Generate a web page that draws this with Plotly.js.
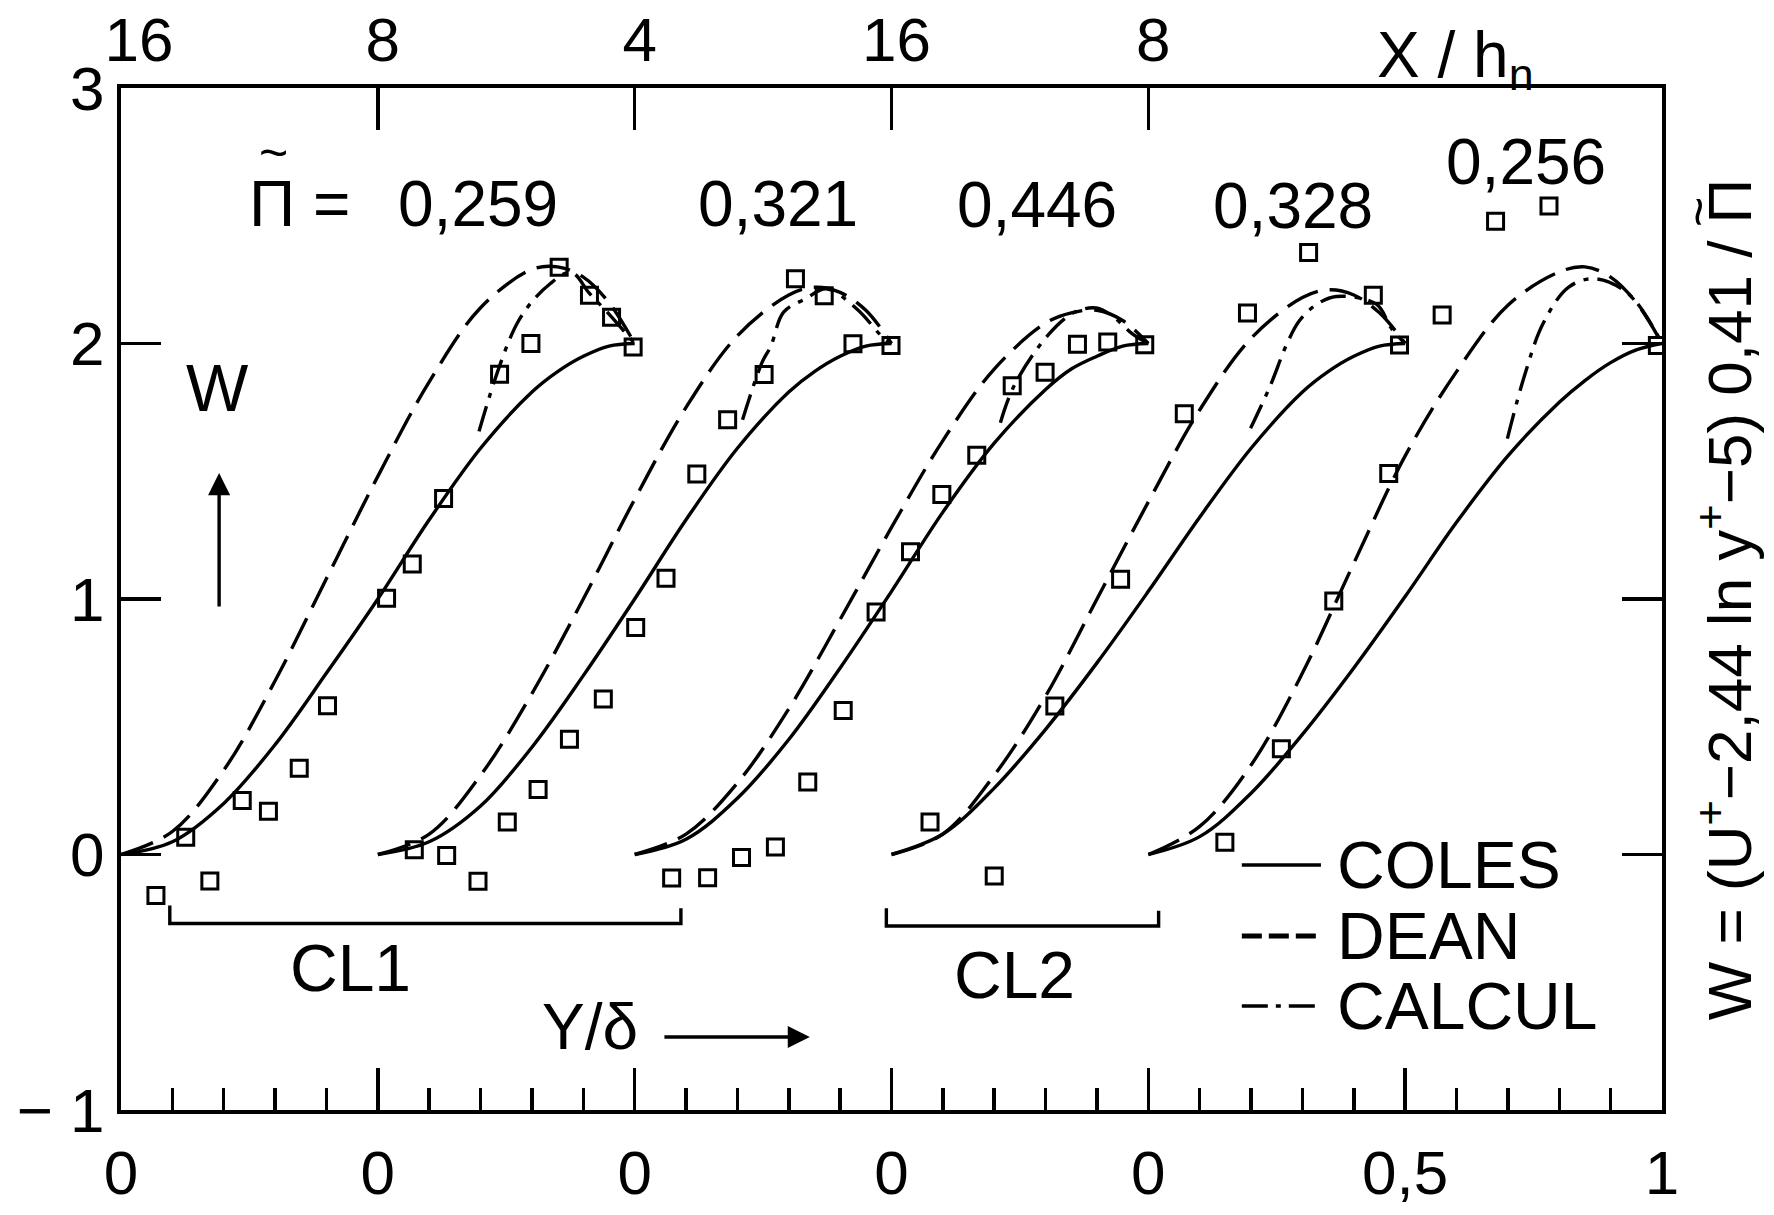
<!DOCTYPE html>
<html><head><meta charset="utf-8">
<script src="https://cdn.plot.ly/plotly-3.0.1.min.js"></script>
<style>html,body{margin:0;padding:0;background:#fff}#chart{width:1774px;height:1215px}</style>
</head><body><div id="chart"></div>
<script>
const FONT = 'Liberation Sans, Arial, DejaVu Sans, sans-serif';

// ---- data (local abscissa Y/delta of each profile, W values) ----
const profileOffsets = [0, 0.5, 1.0, 1.5, 2.0];
const piLabels = ['0,259', '0,321', '0,446', '0,328', '0,256'];
const etaGrid = [0, 0.1, 0.2, 0.3, 0.4, 0.5, 0.6, 0.7, 0.8, 0.85, 0.9, 0.95, 1.0];

const colesW1 = [0, 0.05, 0.20, 0.43, 0.71, 1.00, 1.31, 1.59, 1.81, 1.89, 1.95, 1.99, 2.0];
const colesW2 = [0, 0.05, 0.19, 0.42, 0.70, 1.00, 1.31, 1.59, 1.81, 1.89, 1.95, 1.99, 2.0];
const colesW3 = [0, 0.06, 0.22, 0.45, 0.73, 1.03, 1.34, 1.61, 1.82, 1.90, 1.95, 1.99, 2.0];
const colesW4 = [0, 0.08, 0.26, 0.49, 0.75, 1.03, 1.32, 1.59, 1.81, 1.89, 1.95, 1.99, 2.0];
const colesW5 = [0, 0.07, 0.24, 0.47, 0.73, 1.01, 1.30, 1.56, 1.77, 1.855, 1.925, 1.975, 2.0];

const deanW1 = [0, 0.09, 0.33, 0.68, 1.08, 1.48, 1.85, 2.14, 2.29, 2.30, 2.26, 2.16, 2.0];
const deanW2 = [0, 0.08, 0.31, 0.63, 1.00, 1.39, 1.75, 2.03, 2.19, 2.22, 2.20, 2.13, 2.0];
const deanW3 = [0, 0.08, 0.28, 0.57, 0.92, 1.28, 1.62, 1.90, 2.08, 2.12, 2.13, 2.09, 2.0];
const deanW4 = [0, 0.08, 0.31, 0.62, 1.00, 1.38, 1.74, 2.02, 2.18, 2.21, 2.19, 2.12, 2.0];
const deanW5 = [0, 0.11, 0.35, 0.71, 1.14, 1.56, 1.89, 2.15, 2.28, 2.30, 2.26, 2.16, 2.0];

const calculEta1 = [0.697, 0.774, 0.836, 0.877, 0.912, 0.947, 1.0];
const calculW1   = [1.656, 2.089, 2.235, 2.278, 2.196, 2.122, 2.0];
const calculEta2 = [0.710, 0.748, 0.765, 0.790, 0.833, 0.873, 0.932, 0.985, 1.0];
const calculW2   = [1.702, 1.926, 1.989, 2.123, 2.175, 2.214, 2.136, 2.02, 2.0];
const calculEta3 = [0.712, 0.740, 0.806, 0.856, 0.899, 0.932, 0.969, 1.0];
const calculW3   = [1.690, 1.840, 2.036, 2.122, 2.139, 2.104, 2.038, 2.0];
const calculEta4 = [0.699, 0.737, 0.769, 0.794, 0.827, 0.866, 0.944, 0.973, 1.0];
const calculW4   = [1.668, 1.833, 1.995, 2.089, 2.152, 2.184, 2.154, 2.06, 2.0];
const calculEta5 = [0.699, 0.733, 0.769, 0.819, 0.871, 0.936, 1.0];
const calculW5   = [1.628, 1.879, 2.080, 2.222, 2.253, 2.192, 2.0];

const measEta1 = [0.068, 0.126, 0.173, 0.236, 0.287, 0.347, 0.402, 0.517, 0.567, 0.628, 0.737, 0.798, 0.853, 0.912, 0.955, 0.997];
const measW1   = [-0.16, 0.068, -0.104, 0.211, 0.169, 0.338, 0.582, 1.003, 1.137, 1.393, 1.88, 2.0, 2.298, 2.189, 2.103, 1.986];
const measEta2 = [0.071, 0.134, 0.195, 0.252, 0.312, 0.373, 0.439, 0.502, 0.561, 0.621, 0.681, 0.752, 0.813, 0.869, 0.925, 0.999];
const measW2   = [0.019, -0.004, -0.105, 0.127, 0.254, 0.451, 0.609, 0.888, 1.081, 1.489, 1.702, 1.879, 2.253, 2.187, 1.999, 1.992];
const measEta3 = [0.072, 0.142, 0.208, 0.274, 0.337, 0.406, 0.470, 0.537, 0.598, 0.666, 0.735, 0.799, 0.862, 0.921, 0.993];
const measW3   = [-0.092, -0.091, -0.012, 0.029, 0.284, 0.564, 0.949, 1.185, 1.409, 1.563, 1.835, 1.887, 1.997, 2.006, 1.995];
const measEta4 = [0.075, 0.200, 0.318, 0.446, 0.570, 0.693, 0.812, 0.938, 0.989];
const measW4   = [0.127, -0.084, 0.581, 1.077, 1.725, 2.119, 2.356, 2.189, 1.994];
const measEta5 = [0.149, 0.259, 0.361, 0.468, 0.572, 0.676, 0.780, 0.991];
const measW5   = [0.048, 0.414, 0.992, 1.491, 2.112, 2.478, 2.538, 1.992];

const bottomTickVals = [0, 0.5, 1, 1.5, 2, 2.5, 3];
const bottomTickText = ['0', '0', '0', '0', '0', '0,5', '1'];
const topTickVals = [0.5, 1, 1.5, 2];
const topTickText = ['8', '4', '16', '8'];
const topFirstVal = [0.035];
const topFirstText = ['16'];
const leftTickVals = [-1, 0, 1, 2, 3];
const leftTickText = ['\u2212 1', '0', '1', '2', '3'];
const groupBrackets = [{label: 'CL1', from: 0.095, to: 1.09, depth: -0.27, lx: 0.446, ly: -0.445},
                       {label: 'CL2', from: 1.49, to: 2.02, depth: -0.28, lx: 1.74, ly: -0.47}];

// ---- build traces ----
const colesSets = [colesW1, colesW2, colesW3, colesW4, colesW5];
const deanSets = [deanW1, deanW2, deanW3, deanW4, deanW5];
const calculEta = [calculEta1, calculEta2, calculEta3, calculEta4, calculEta5];
const calculW = [calculW1, calculW2, calculW3, calculW4, calculW5];
const measEta = [measEta1, measEta2, measEta3, measEta4, measEta5];
const measW = [measW1, measW2, measW3, measW4, measW5];

const LW = 3.4;
const traces = [];
profileOffsets.forEach((off, i) => {
  const shift = arr => arr.map(v => v + off);
  traces.push({x: shift(etaGrid), y: colesSets[i], mode: 'lines', name: 'COLES', showlegend: false,
    line: {color: '#000', width: LW, shape: 'spline', smoothing: 1}, hoverinfo: 'skip'});
  traces.push({x: shift(etaGrid), y: deanSets[i], mode: 'lines', name: 'DEAN', showlegend: false,
    line: {color: '#000', width: LW, dash: '34px,12px', shape: 'spline', smoothing: 1}, hoverinfo: 'skip'});
  traces.push({x: shift(calculEta[i]), y: calculW[i], mode: 'lines', name: 'CALCUL', showlegend: false,
    line: {color: '#000', width: LW, dash: '26px,9px,5px,9px', shape: 'spline', smoothing: 1}, hoverinfo: 'skip'});
  traces.push({x: shift(measEta[i]), y: measW[i], mode: 'markers', showlegend: false,
    marker: {symbol: 'square-open', size: 16, color: '#000', line: {width: 3, color: '#000'}}, hoverinfo: 'skip'});
});
traces.push({x: [], y: [], xaxis: 'x2', yaxis: 'y', showlegend: false});
traces.push({x: [], y: [], xaxis: 'x3', yaxis: 'y', showlegend: false});

// ---- annotations ----
const ann = [];
const T = (text, x, y, size, extra) => Object.assign({text, x, y, xref: 'x', yref: 'y', showarrow: false,
  xanchor: 'center', yanchor: 'middle', font: {family: FONT, size: size, color: '#000'}}, extra || {});
ann.push(T('\u03A0 =', 0.348, 2.546, 64));
ann.push(T('~', 0.296, 2.745, 50, {height: 18}));
const piX = [0.695, 1.279, 1.783, 2.281, 2.735];
const piY = [2.546, 2.546, 2.542, 2.538, 2.71];
piLabels.forEach((t, i) => ann.push(T(t, piX[i], piY[i], 64)));
ann.push(T('W', 0.187, 1.826, 66));
ann.push({x: 0.191, y: 1.493, ax: 0.191, ay: 0.965, axref: 'x', ayref: 'y', xref: 'x', yref: 'y',
  showarrow: true, arrowhead: 2, arrowsize: 1.3, arrowwidth: 3.4, arrowcolor: '#000', text: ''});
ann.push(T('Y/\u03B4', 0.913, -0.675, 64));
ann.push({x: 1.341, y: -0.714, ax: 1.055, ay: -0.714, axref: 'x', ayref: 'y', xref: 'x', yref: 'y',
  showarrow: true, arrowhead: 2, arrowsize: 1.3, arrowwidth: 3.4, arrowcolor: '#000', text: ''});
groupBrackets.forEach(b => ann.push(T(b.label, b.lx, b.ly, 66)));
ann.push({text: 'X / h<sub>n</sub>', xref: 'paper', yref: 'paper', x: 0.866, y: 1.0284, showarrow: false,
  xanchor: 'center', yanchor: 'middle', font: {family: FONT, size: 64, color: '#000'}});
ann.push({text: 'W = (U<sup>+</sup>\u22122,44 ln y<sup>+</sup>\u22125) 0,41 / \u03A0', xref: 'paper', yref: 'paper',
  x: 1.041, y: 0.500, textangle: -90, showarrow: false, xanchor: 'center', yanchor: 'middle',
  font: {family: FONT, size: 62, color: '#000'}});
ann.push({text: '~', xref: 'paper', yref: 'paper', x: 1.0234, y: 0.8787, textangle: -90, showarrow: false,
  xanchor: 'center', yanchor: 'middle', height: 18, font: {family: FONT, size: 52, color: '#000'}});

// legend (drawn)
const legendRows = [{label: 'COLES', y: -0.041, dash: 'solid'}, {label: 'DEAN', y: -0.319, dash: '20px,7px'},
                    {label: 'CALCUL', y: -0.593, dash: '26px,8px,5px,8px'}];
const shapes = [];
legendRows.forEach(r => {
  shapes.push({type: 'line', xref: 'x', yref: 'y', x0: 2.182, x1: 2.336, y0: r.y, y1: r.y,
    line: {color: '#000', width: r.label === 'DEAN' ? 5 : LW, dash: r.dash}});
  ann.push(T(r.label, 2.363, r.y, 66, {xanchor: 'left'}));
});
groupBrackets.forEach(b => {
  shapes.push({type: 'path', xref: 'x', yref: 'y',
    path: `M ${b.from},${b.depth + 0.07} L ${b.from},${b.depth} L ${b.to},${b.depth} L ${b.to},${b.depth + 0.06}`,
    line: {color: '#000', width: 3.4}});
});

const topAxisCommon = {overlaying: 'x', anchor: 'y', side: 'top', range: [0, 3], showline: false,
  tickmode: 'array', showgrid: false, zeroline: false, tickfont: {family: FONT, size: 62}, ticklabelstandoff: 14};

const layout = {
  width: 1774, height: 1215, paper_bgcolor: '#fff', plot_bgcolor: '#fff',
  margin: {l: 121, r: 112, t: 88, b: 105},
  showlegend: false,
  font: {family: FONT, color: '#000'},
  xaxis: {range: [0, 3], showline: true, linewidth: 4, linecolor: '#000', mirror: true,
    ticks: 'inside', ticklen: 42, tickwidth: 3.5, tickcolor: '#000',
    tickmode: 'array', tickvals: bottomTickVals, ticktext: bottomTickText,
    minor: {ticks: 'inside', ticklen: 22, tickwidth: 3.5, tickcolor: '#000', tickmode: 'linear', tick0: 0, dtick: 0.1},
    showgrid: false, zeroline: false, tickfont: {family: FONT, size: 62}, ticklabelstandoff: 6},
  xaxis2: Object.assign({}, topAxisCommon, {ticks: 'inside', ticklen: 42, tickwidth: 3.5, tickcolor: '#000',
    tickvals: topTickVals, ticktext: topTickText, ticklabelshift: 5}),
  xaxis3: Object.assign({}, topAxisCommon, {ticks: '', tickvals: topFirstVal, ticktext: topFirstText}),
  yaxis: {range: [-1, 3], showline: true, linewidth: 4, linecolor: '#000', mirror: 'ticks',
    ticks: 'inside', ticklen: 40, tickwidth: 3.5, tickcolor: '#000',
    tickmode: 'array', tickvals: leftTickVals, ticktext: leftTickText,
    showgrid: false, zeroline: false, tickfont: {family: FONT, size: 62}, ticklabelstandoff: 0},
  annotations: ann,
  shapes: shapes
};
Plotly.newPlot('chart', traces, layout, {staticPlot: true, displayModeBar: false});
</script>
</body></html>
